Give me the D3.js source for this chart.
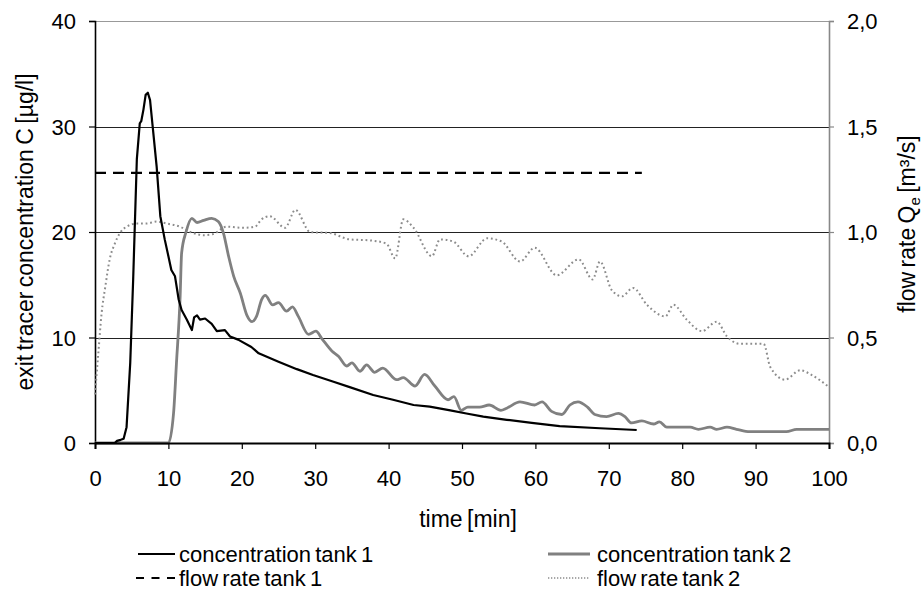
<!DOCTYPE html>
<html><head><meta charset="utf-8">
<script src="https://cdn.jsdelivr.net/npm/d3@7"></script>
<style>
body{margin:0;background:#fff;}
text{font-family:"Liberation Sans",Arial,sans-serif;fill:#000;}
</style></head><body>
<svg id="c" width="922" height="595"></svg>
<script>
// time [min], concentration [µg/l]
const conc1 = [[0,0],[2.7,0],[3.0,0.2],[3.5,0.3],[3.9,0.4],[4.3,1.5],[4.8,7.6],[5.2,15.5],[5.7,26.9],[6.1,30.3],[6.3,30.5],[6.6,31.6],[6.9,33.0],[7.2,33.2],[7.5,32.5],[7.9,29.7],[8.4,26.2],[8.9,21.5],[9.5,19.3],[10.0,17.7],[10.4,16.4],[10.9,15.8],[11.4,13.6],[11.8,12.6],[12.5,11.7],[13.2,10.7],[13.5,11.9],[13.9,12.1],[14.3,11.7],[15.0,11.8],[15.9,11.3],[16.6,10.6],[17.7,10.7],[18.4,10.1],[19.5,9.8],[21.3,9.1],[22.3,8.5],[25.0,7.7],[27.5,7.0],[29.7,6.45],[32.5,5.8],[34.7,5.3],[37.9,4.55],[40.6,4.1],[43.4,3.6],[45.6,3.45],[48.4,3.1],[50.6,2.8],[52.9,2.5],[56.1,2.2],[59.5,1.9],[63.3,1.6],[68.8,1.4],[73.8,1.23]];
const conc2 = [[0,0],[10.0,0],[10.7,2.8],[11.1,7.6],[11.6,13.9],[11.8,18.0],[12.4,20.0],[13.2,21.3],[13.9,20.9],[14.8,21.1],[15.9,21.3],[16.8,21.0],[17.5,19.9],[18.2,17.7],[18.9,15.8],[19.8,14.2],[20.7,12.1],[21.4,11.5],[22.0,12.0],[22.7,13.6],[23.2,14.0],[24.2,13.1],[25.0,13.3],[26.1,12.5],[26.9,12.9],[27.7,12.0],[29.1,10.3],[30.1,10.6],[30.9,9.9],[32.3,8.7],[33.2,8.2],[34.3,7.3],[35.0,7.6],[36.1,6.8],[37.0,7.4],[38.1,6.7],[39.2,7.1],[41.1,6.0],[42.0,6.2],[43.6,5.4],[44.9,6.5],[46.3,5.4],[48.1,4.1],[48.9,4.4],[49.9,3.1],[50.8,3.4],[52.4,3.4],[53.7,3.6],[55.3,3.1],[56.1,3.3],[57.9,3.9],[59.9,3.6],[60.9,3.9],[62.2,3.0],[63.6,2.7],[64.7,3.6],[65.8,3.9],[67.1,3.4],[68.1,2.7],[69.7,2.5],[71.3,2.8],[72.2,2.5],[73.1,1.9],[74.5,2.1],[76.1,1.8],[76.9,2.0],[77.9,1.5],[81.1,1.5],[82.2,1.3],[83.8,1.5],[84.7,1.3],[86.1,1.5],[87.4,1.3],[89.2,1.07],[94.2,1.07],[95.6,1.3],[100,1.3]];
// time [min], flow rate [m³/s]
const flow1 = [[0,1.28],[74.5,1.28]];
const flow2 = [[0,0.23],[0.45,0.425],[0.9,0.615],[1.4,0.74],[2.0,0.87],[2.7,0.945],[3.4,0.995],[4.3,1.025],[5.7,1.04],[7.0,1.04],[8.4,1.05],[9.8,1.04],[11.6,1.025],[13.0,1.0],[14.8,0.985],[16.1,0.99],[17.9,1.025],[20.2,1.02],[21.8,1.025],[22.7,1.06],[23.8,1.075],[25.9,1.02],[27.3,1.105],[29.3,1.0],[32.0,0.995],[34.7,0.965],[37.5,0.96],[39.7,0.945],[40.9,0.875],[42.0,1.06],[43.4,1.02],[45.9,0.885],[47.0,0.965],[48.8,0.955],[50.9,0.885],[53.4,0.97],[55.4,0.955],[57.9,0.86],[59.9,0.925],[62.9,0.795],[65.9,0.87],[67.8,0.775],[68.8,0.86],[70.4,0.725],[71.8,0.695],[73.3,0.735],[75.2,0.655],[77.7,0.6],[78.8,0.655],[80.6,0.585],[82.7,0.53],[84.7,0.575],[86.1,0.505],[87.9,0.47],[91.1,0.47],[92.0,0.36],[94.0,0.30],[96.1,0.345],[97.5,0.325],[100,0.265]];

const xTicks = [0,10,20,30,40,50,60,70,80,90,100];
const yLeftTicks = [0,10,20,30,40];
const yRightTicks = [0,0.5,1.0,1.5,2.0];
const legendLabels = ["concentration tank 1","concentration tank 2","flow rate tank 1","flow rate tank 2"];

const svg = d3.select("#c");
const L=95,R=829,T=21,B=443;
const FONT = "Liberation Sans, Arial, sans-serif";
const x = d3.scaleLinear().domain([0,100]).range([L,R]);
const yL = d3.scaleLinear().domain([0,40]).range([B,T]);
const yR = d3.scaleLinear().domain([0,2]).range([B,T]);

// gridlines
svg.append("g").selectAll("line").data(yLeftTicks.filter(d=>d>0)).join("line")
  .attr("x1",L).attr("x2",R).attr("y1",d=>Math.round(yL(d))+0.5).attr("y2",d=>Math.round(yL(d))+0.5)
  .attr("stroke",d=>d===40?"#999":"#222").attr("stroke-width",1);

// left axis
const gl = svg.append("g").attr("transform",`translate(${L},0)`)
  .call(d3.axisLeft(yL).tickValues(yLeftTicks).tickSize(6).tickPadding(13));
gl.select(".domain").attr("stroke","#000").attr("stroke-width",1.6);
gl.selectAll(".tick line").attr("stroke","#000").attr("stroke-width",1.2);
gl.selectAll("text").attr("font-size",22).attr("font-family",FONT).attr("fill","#000").attr("dy","0.36em");

// right axis
const gr = svg.append("g").attr("transform",`translate(${R},0)`)
  .call(d3.axisRight(yR).tickValues(yRightTicks).tickSize(5).tickPadding(13).tickFormat(d=>d3.format(".1f")(d).replace(".",",")));
gr.select(".domain").attr("stroke","#888").attr("stroke-width",1.6);
gr.selectAll(".tick line").attr("stroke","#888").attr("stroke-width",1.2);
gr.selectAll("text").attr("font-size",22).attr("font-family",FONT).attr("fill","#000").attr("dy","0.36em");

// lines
const lineL = d3.line().x(d=>x(d[0])).y(d=>yL(d[1]));
const lineLs = d3.line().x(d=>x(d[0])).y(d=>yL(d[1])).curve(d3.curveMonotoneX);
const lineRs = d3.line().x(d=>x(d[0])).y(d=>yR(d[1])).curve(d3.curveMonotoneX);
const lineR = d3.line().x(d=>x(d[0])).y(d=>yR(d[1]));

svg.append("path").datum(flow2).attr("d",lineRs).attr("fill","none")
  .attr("stroke","#8c8c8c").attr("stroke-width",2).attr("stroke-dasharray","1.8,2.8");
svg.append("path").datum(flow1).attr("d",lineR).attr("fill","none")
  .attr("stroke","#000").attr("stroke-width",2.2).attr("stroke-dasharray","11,7");
svg.append("path").datum(conc2).attr("d",lineLs).attr("fill","none")
  .attr("stroke","#808080").attr("stroke-width",2.8).attr("stroke-linejoin","round");
svg.append("path").datum(conc1).attr("d",lineL).attr("fill","none")
  .attr("stroke","#000").attr("stroke-width",2.2).attr("stroke-linejoin","round");

// x axis
const gx = svg.append("g").attr("transform",`translate(0,${B})`)
  .call(d3.axisBottom(x).tickValues(xTicks).tickSize(6));
gx.select(".domain").attr("stroke","#000").attr("stroke-width",2);
gx.selectAll(".tick line").attr("stroke","#000").attr("stroke-width",1.2);
gx.selectAll("text").attr("font-size",22).attr("font-family",FONT).attr("fill","#000")
  .attr("y",43).attr("dy","0");

// axis titles
svg.append("text").attr("x",468).attr("y",527).attr("text-anchor","middle")
  .attr("font-size",23).attr("word-spacing",-2).text("time [min]");
svg.append("text").attr("transform","translate(33,232) rotate(-90)").attr("text-anchor","middle")
  .attr("font-size",23).attr("word-spacing",-2).text("exit tracer concentration C [µg/l]");
const rt = svg.append("text").attr("transform","translate(915,224) rotate(-90)").attr("text-anchor","middle")
  .attr("font-size",23).attr("word-spacing",-2);
rt.append("tspan").text("flow rate Q");
rt.append("tspan").attr("font-size",15).attr("dy",5).text("e");
rt.append("tspan").attr("dy",-5).text(" [m³/s]");

// legend
const leg = [
  {x:138,y:554,label:legendLabels[0],stroke:"#000",w:2.2,dash:null},
  {x:548,y:554,label:legendLabels[1],stroke:"#808080",w:2.8,dash:null},
  {x:136,y:578,label:legendLabels[2],stroke:"#000",w:2.2,dash:"8,7.5"},
  {x:548,y:578,label:legendLabels[3],stroke:"#8c8c8c",w:1.5,dash:"1.3,1.7"}
];
const lg = svg.append("g").selectAll("g").data(leg).join("g");
lg.append("line").attr("x1",d=>d.x).attr("x2",d=>d.x<300?175:590).attr("y1",d=>d.y).attr("y2",d=>d.y)
  .attr("stroke",d=>d.stroke).attr("stroke-width",d=>d.w).attr("stroke-dasharray",d=>d.dash);
lg.append("text").attr("x",d=>d.x<300?179:597).attr("y",d=>d.y+8).attr("font-size",22).attr("word-spacing",-2)
  .text(d=>d.label);
</script></body></html>
